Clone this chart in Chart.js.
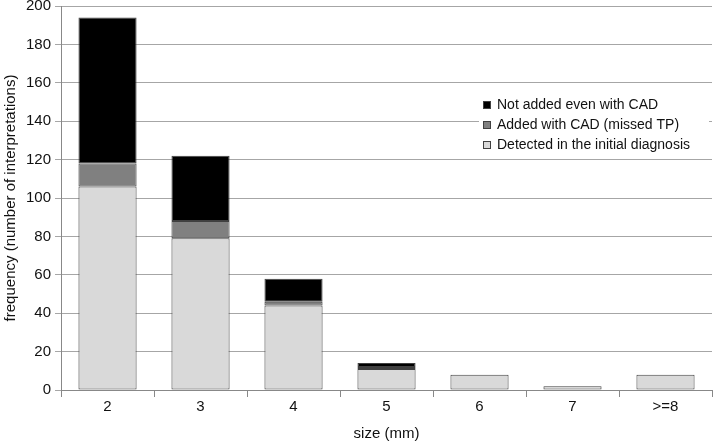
<!DOCTYPE html>
<html>
<head>
<meta charset="utf-8">
<script src="https://cdn.jsdelivr.net/npm/chart.js@4"></script>
<style>
  body { margin: 0; background: #fff; }
  #wrap { width: 720px; height: 446px; }
</style>
</head>
<body>
<div id="wrap"><canvas id="myChart"></canvas></div>
<script>
// categories and series
const sizes = ['2', '3', '4', '5', '6', '7', '>=8'];
const detected = [106, 79, 44, 11, 8, 2, 8];
const addedCad = [12, 9, 2, 1, 0, 0, 0];
const notAdded = [76, 34, 12, 2, 0, 0, 0];
const yTicks = [0, 20, 40, 60, 80, 100, 120, 140, 160, 180, 200];

const font = "'Liberation Sans', Arial, sans-serif";

// legend drawn inside the plot, black item on top
const boxLegend = {
  id: 'boxLegend',
  afterDraw(chart) {
    const ctx = chart.ctx;
    const items = chart.data.datasets.slice().reverse();
    const x = 483, y0 = 105, gap = 20;
    ctx.save();
    ctx.fillStyle = '#fff';
    ctx.fillRect(x - 4, y0 - 12, 230, gap * items.length + 4);
    ctx.font = '14px ' + font;
    ctx.textBaseline = 'middle';
    items.forEach(function(ds, i) {
      const y = y0 + i * gap;
      ctx.fillStyle = ds.backgroundColor;
      ctx.fillRect(x, y - 4, 8, 8);
      ctx.strokeStyle = '#404040';
      ctx.lineWidth = 1;
      ctx.strokeRect(x + 0.5, y - 3.5, 7, 7);
      ctx.fillStyle = '#111';
      ctx.fillText(ds.label, x + 14, y);
    });
    ctx.restore();
  }
};

new Chart(document.getElementById('myChart'), {
  type: 'bar',
  data: {
    labels: sizes,
    datasets: [
      { label: 'Detected in the initial diagnosis', data: detected, backgroundColor: '#d9d9d9' },
      { label: 'Added with CAD (missed TP)', data: addedCad, backgroundColor: '#808080' },
      { label: 'Not added even with CAD', data: notAdded, backgroundColor: '#000000' }
    ].map(function(ds) {
      return Object.assign(ds, {
        borderColor: '#404040',
        borderWidth: function(c) { return c.raw ? 1 : 0; },
        borderSkipped: false,
        barPercentage: 0.625,
        categoryPercentage: 1
      });
    })
  },
  options: {
    responsive: true,
    maintainAspectRatio: false,
    animation: false,
    layout: { padding: { top: 0, right: 8, left: 2, bottom: 1 } },
    plugins: {
      legend: { display: false },
      tooltip: { enabled: false }
    },
    scales: {
      x: {
        stacked: true,
        grid: { offset: true, drawOnChartArea: false, tickLength: 7, color: '#888' },
        border: { color: '#888' },
        ticks: { color: '#111', font: { family: font, size: 15 }, padding: 1 },
        title: { display: true, text: 'size (mm)', color: '#111', font: { family: font, size: 15 }, padding: { top: 8, bottom: 2 } }
      },
      y: {
        stacked: true,
        min: 0,
        max: 200,
        afterBuildTicks(axis) { axis.ticks = yTicks.map(function(v) { return { value: v }; }); },
        afterFit(axis) { axis.paddingTop = 6; },
        grid: { color: '#a6a6a6', tickLength: 6 },
        border: { color: '#888' },
        ticks: { color: '#111', font: { family: font, size: 15 }, padding: 4 },
        title: { display: true, text: 'frequency (number of interpretations)', color: '#111', font: { family: font, size: 15 }, padding: { top: 0, bottom: 2 } }
      }
    }
  },
  plugins: [boxLegend]
});
</script>
</body>
</html>
